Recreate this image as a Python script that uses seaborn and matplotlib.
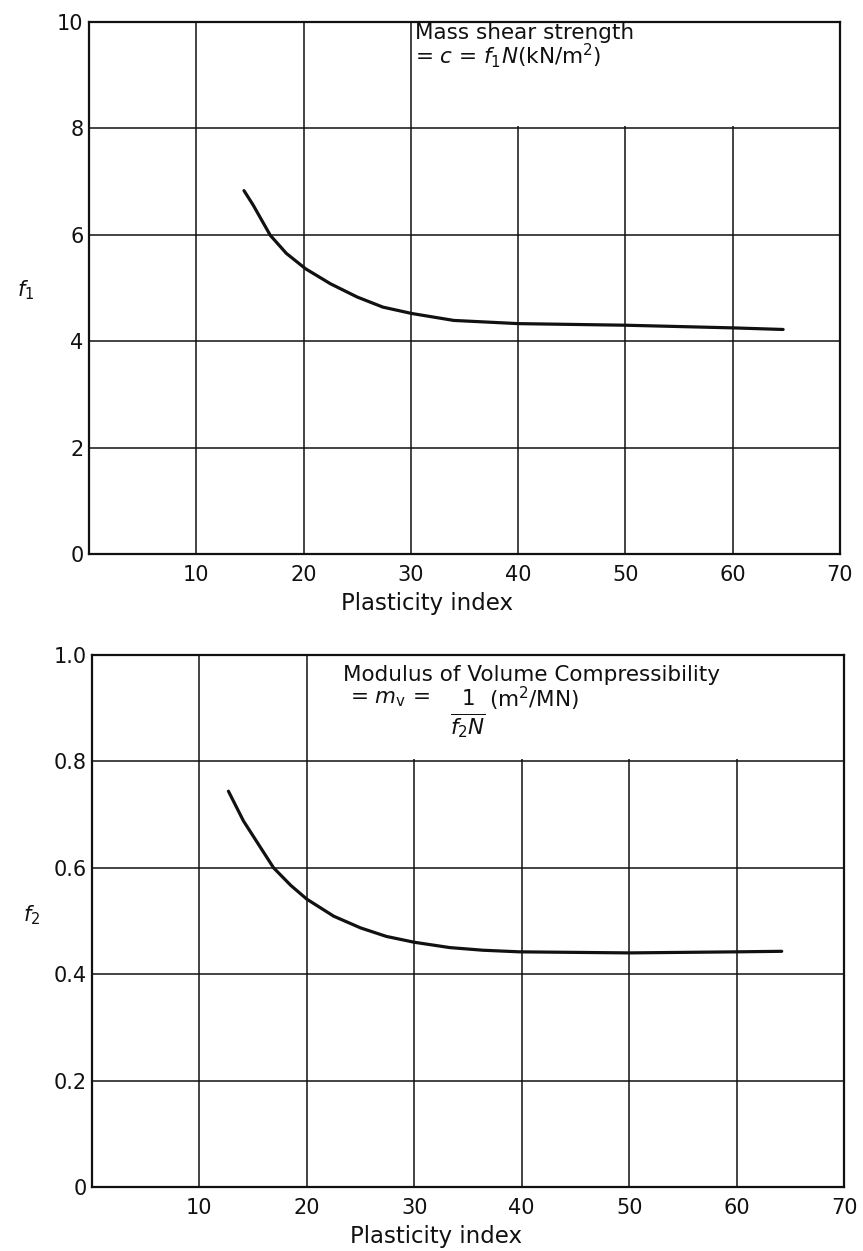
import matplotlib
matplotlib.use("Agg")
import matplotlib.pyplot as plt
from matplotlib.patches import Rectangle
import seaborn as sns
import pandas as pd

# ---- data ----
pi_top = [14.45, 15.3, 16.9, 18.4, 20.2, 22.5, 25.0, 27.4, 30.1, 34.0, 40.0, 50.0, 60.0, 64.7]
f1_vals = [6.83, 6.56, 5.99, 5.65, 5.36, 5.08, 4.83, 4.64, 4.52, 4.39, 4.33, 4.30, 4.25, 4.22]

pi_bot = [12.7, 14.1, 15.5, 16.9, 18.5, 20.0, 22.5, 25.0, 27.4, 30.0, 33.3, 36.4, 39.8, 50.0, 60.0, 64.2]
f2_vals = [0.744, 0.688, 0.644, 0.600, 0.567, 0.541, 0.509, 0.487, 0.471, 0.460, 0.450, 0.445,
           0.442, 0.440, 0.442, 0.443]

x_ticks = [10, 20, 30, 40, 50, 60, 70]
y1_ticks = [0, 2, 4, 6, 8, 10]
y1_labels = ["0", "2", "4", "6", "8", "10"]
y2_ticks = [0, 0.2, 0.4, 0.6, 0.8, 1.0]
y2_labels = ["0", "0.2", "0.4", "0.6", "0.8", "1.0"]

INK = "#111111"
sns.set_theme(style="white")
plt.rcParams["font.family"] = ["DejaVu Sans"]
plt.rcParams["mathtext.fontset"] = "dejavusans"

fig = plt.figure(figsize=(8.63, 12.51), dpi=100)
ax1 = fig.add_axes([0.1031, 0.5572, 0.8702, 0.4252])
ax2 = fig.add_axes([0.1066, 0.0512, 0.8714, 0.4252])

df1 = pd.DataFrame({"pi": pi_top, "f": f1_vals})
df2 = pd.DataFrame({"pi": pi_bot, "f": f2_vals})

sns.lineplot(data=df1, x="pi", y="f", ax=ax1, color=INK, linewidth=2.3, zorder=3)
sns.lineplot(data=df2, x="pi", y="f", ax=ax2, color=INK, linewidth=2.3, zorder=3)


def style(ax, yticks, ylabels, ylim, ylab):
    ax.set_xlim(0, 70)
    ax.set_ylim(*ylim)
    ax.set_xticks(x_ticks)
    ax.set_yticks(yticks)
    ax.set_yticklabels(ylabels)
    ax.grid(True, color=INK, linewidth=1.1)
    ax.set_axisbelow(True)
    for s in ax.spines.values():
        s.set_visible(True)
        s.set_color(INK)
        s.set_linewidth(1.6)
    ax.tick_params(axis="both", length=0, labelsize=15, colors=INK)
    ax.tick_params(axis="x", pad=8)
    ax.tick_params(axis="y", pad=4)
    ax.set_xlabel("Plasticity index", fontsize=16.5, color=INK)
    ax.set_ylabel(ylab, fontsize=15, rotation=0, color=INK, va="center", ha="center")


style(ax1, y1_ticks, y1_labels, (0, 10), r"$f_1$")
style(ax2, y2_ticks, y2_labels, (0, 1.0), r"$f_2$")
ax1.yaxis.set_label_coords(-0.085, 0.496)
ax2.yaxis.set_label_coords(-0.08, 0.511)
ax1.xaxis.set_label_coords(0.45, -0.072)
ax2.xaxis.set_label_coords(0.458, -0.072)

# white label boxes hiding the grid
ax1.add_patch(Rectangle((30.2, 8.04), 39.8, 1.96, facecolor="white", edgecolor="none", zorder=1))
ax2.add_patch(Rectangle((20.2, 0.804), 49.8, 0.196, facecolor="white", edgecolor="none", zorder=1))

FS = 15.5
ax1.text(30.4, 9.80, "Mass shear strength", fontsize=FS, color=INK, va="center", zorder=4)
ax1.text(30.4, 9.36, r"= $c$ = $f_1N$(kN/m$^2$)", fontsize=FS, color=INK, va="center", zorder=4)

ax2.text(23.4, 0.962, "Modulus of Volume Compressibility", fontsize=FS, color=INK, va="center", zorder=4)
ax2.text(24.0, 0.918, r"= $m_\mathrm{v}$ =", fontsize=FS, color=INK, va="center", zorder=4)
ax2.text(35.0, 0.918, "1", fontsize=FS, color=INK, va="center", ha="center", zorder=4)
ax2.text(37.0, 0.918, r"(m$^2$/MN)", fontsize=FS, color=INK, va="center", zorder=4)
ax2.text(35.0, 0.868, r"$\overline{f_2N}$", fontsize=FS, color=INK, va="center", ha="center", zorder=4)

fig.savefig("out.png", dpi=100, facecolor="white")
